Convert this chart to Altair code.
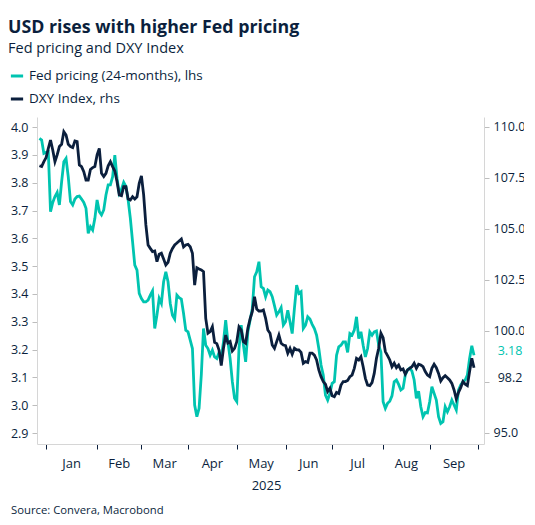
import numpy as np
import pandas as pd
import altair as alt

NAVY = "#0b1f3d"
TEAL = "#00c4b0"
GREY = "#d6d6d6"
FONT = "Open Sans"

fed_label = "Fed pricing (24-months), lhs"
dxy_label = "DXY Index, rhs"

# business days shown on the chart (Macrobond business-day axis)
dates = pd.bdate_range("2024-12-27", "2025-09-29")

# Fed pricing (24-months), lhs
fed = [
    3.959, 3.953, 3.905, 3.909, 3.911, 3.696, 3.729, 3.750, 3.765, 3.720, 3.803, 3.875, 3.887,
    3.821, 3.732, 3.720, 3.741, 3.750, 3.752, 3.741, 3.729, 3.708, 3.618,
    3.642, 3.630, 3.672, 3.738, 3.696, 3.684, 3.702, 3.756, 3.792, 3.792,
    3.821, 3.899, 3.815, 3.762, 3.777, 3.801, 3.786, 3.738, 3.672, 3.588,
    3.504, 3.486, 3.402, 3.384, 3.372, 3.372, 3.378, 3.396, 3.411, 3.276,
    3.324, 3.384, 3.366, 3.444, 3.480, 3.444, 3.366, 3.324, 3.310, 3.396,
    3.387, 3.382, 3.330, 3.270, 3.264, 3.234, 3.204, 3.001, 2.959, 2.989,
    3.109, 3.276, 3.216, 3.204, 3.180, 3.198, 3.174, 3.168, 3.190, 3.174,
    3.228, 3.306, 3.228, 3.168, 3.085, 3.025, 3.013, 3.204, 3.288, 3.216,
    3.156, 3.264, 3.306, 3.348, 3.462, 3.480, 3.516, 3.426, 3.420, 3.390,
    3.414, 3.408, 3.390, 3.358, 3.324, 3.336, 3.351, 3.288, 3.300, 3.342,
    3.300, 3.258, 3.348, 3.432, 3.402, 3.408, 3.276, 3.288, 3.318, 3.310,
    3.291, 3.276, 3.252, 3.204, 3.145, 3.109, 3.037, 3.019, 3.043, 3.079,
    3.085, 3.180, 3.210, 3.216, 3.228, 3.228, 3.190, 3.258, 3.252, 3.270,
    3.318, 3.240, 3.264, 3.216, 3.174, 3.204, 3.264, 3.252, 3.264, 3.267,
    3.216, 3.192, 3.013, 2.989, 3.007, 3.015, 3.034, 3.085, 3.091, 3.075,
    3.055, 3.061, 3.109, 3.127, 3.133, 3.123, 3.091, 3.025, 3.051, 2.995,
    2.959, 2.974, 2.973, 3.013, 3.067, 3.043, 3.019, 2.959, 2.935, 2.941,
    2.995, 2.977, 2.995, 3.019, 3.001, 2.983, 3.055, 3.073, 3.085, 3.091,
    3.109, 3.168, 3.214, 3.180,
]

# DXY Index, rhs
dxy = [
    108.10, 108.06, 108.30, 108.50, 108.95, 109.36, 108.87, 108.30, 108.63, 109.04, 109.15, 109.77, 109.61,
    109.15, 109.04, 108.99, 109.31, 109.28, 108.14, 108.06, 107.81, 107.40, 107.40,
    107.92, 108.01, 108.06, 108.63, 108.95, 107.73, 107.57, 107.73, 108.10, 108.30,
    108.06, 107.84, 107.32, 106.67, 106.63, 107.08, 107.08, 106.47, 106.42, 106.58,
    106.47, 106.58, 107.24, 107.60, 106.67, 105.20, 104.22, 104.05, 103.89, 103.92,
    103.40, 103.76, 103.81, 103.53, 103.24, 103.37, 103.81, 104.05, 104.22, 104.31,
    104.41, 104.51, 104.12, 104.22, 104.25, 104.13, 103.81, 102.25, 103.10, 103.04,
    102.99, 102.91, 100.62, 99.89, 99.97, 100.21, 99.44, 99.38, 99.07, 98.30,
    99.15, 99.80, 99.41, 99.48, 99.02, 99.15, 99.48, 100.20, 100.05, 99.48,
    99.40, 100.13, 100.59, 100.95, 101.68, 101.08, 100.98, 100.98, 101.03, 100.62,
    100.05, 99.89, 99.31, 99.15, 99.48, 99.80, 99.40, 99.31, 99.28, 98.91,
    99.15, 98.86, 99.15, 99.07, 99.07, 98.95, 98.42, 98.50, 98.46, 98.91,
    98.91, 98.82, 98.58, 98.09, 97.76, 97.52, 97.39, 97.03, 97.19, 96.83,
    96.78, 96.99, 96.94, 97.35, 97.52, 97.52, 97.58, 97.76, 97.84, 98.17,
    98.66, 98.58, 98.74, 98.25, 97.68, 97.35, 97.32, 97.47, 97.92, 98.66,
    99.15, 99.89, 99.67, 98.99, 98.79, 98.58, 98.25, 98.42, 98.20, 98.33,
    98.09, 98.14, 97.88, 98.09, 98.17, 98.25, 98.42, 98.17, 98.37, 98.33,
    98.25, 98.01, 97.84, 97.76, 98.17, 98.37, 98.20, 97.92, 97.55, 97.71,
    97.81, 97.71, 97.60, 97.43, 97.11, 96.67, 96.99, 97.22, 97.52, 97.39,
    97.32, 98.01, 98.66, 98.20,
]

month_starts = ["2025-01-01", "2025-02-01", "2025-03-01", "2025-04-01", "2025-05-01",
                "2025-06-01", "2025-07-01", "2025-08-01", "2025-09-01", "2025-10-01"]
month_names = ["Jan", "Feb", "Mar", "Apr", "May", "Jun", "Jul", "Aug", "Sep"]

left_ticks = [2.9, 3.0, 3.1, 3.2, 3.3, 3.4, 3.5, 3.6, 3.7, 3.8, 3.9, 4.0]
right_ticks = [95.0, 97.5, 100.0, 102.5, 105.0, 107.5, 110.0]

source = "Source: Convera, Macrobond"

# x position = business days since 1 Jan 2025
day = np.busday_count("2025-01-01", dates.values.astype("datetime64[D]"))
starts = np.busday_count("2025-01-01", np.array(month_starts, dtype="datetime64[D]"))
mids = (starts[:-1] + starts[1:]) / 2

df = pd.DataFrame({"day": day, "fed": fed, "dxy": dxy})
last = df.tail(1)
months = pd.DataFrame({"day": mids, "name": month_names})

W, H = 447, 327

x_enc = alt.X(
    "day:Q",
    scale=alt.Scale(domain=[-4.1, 197.5], nice=False, zero=False),
    axis=alt.Axis(
        values=[int(s) for s in starts], labels=False, grid=False,
        tickSize=5, tickColor=NAVY, domainColor=GREY,
        title="2025", titleX=229, titleY=45, titleAlign="center",
        titleBaseline="alphabetic", titleFontSize=13, titleFontWeight="normal",
        titleColor=NAVY,
    ),
)

y_fed = alt.Scale(domain=[2.861, 4.036], nice=False, zero=False)
y_dxy = alt.Scale(domain=[94.46, 110.49], nice=False, zero=False)

fed_axis = alt.Axis(
    orient="left", values=left_ticks, format=".1f", title=None,
    grid=False, tickSize=5, tickColor="#bdbdbd", domainColor=GREY,
    labelPadding=4, labelOverlap=False,
)
dxy_axis = alt.Axis(
    orient="right", values=right_ticks, title=None,
    labelExpr="datum.value == 97.5 ? '' : format(datum.value, '.1f')",
    grid=False, tickSize=5, tickColor="#bdbdbd", domainColor=GREY,
    labelPadding=4, labelOverlap=False,
)

color = alt.Color(
    "series:N",
    scale=alt.Scale(domain=[fed_label, dxy_label], range=[TEAL, NAVY]),
    legend=alt.Legend(
        title=None, orient="none", legendX=-28, legendY=-49,
        symbolType="stroke", symbolSize=150, symbolStrokeWidth=3,
        labelFont=FONT, labelFontSize=13.5, labelColor=NAVY, labelLimit=400,
        labelOffset=4, rowPadding=8, padding=0,
    ),
)

fed_line = (
    alt.Chart(df)
    .transform_calculate(series=f"'{fed_label}'")
    .mark_line(strokeWidth=2.8)
    .encode(x=x_enc, y=alt.Y("fed:Q", scale=y_fed, axis=fed_axis), color=color)
)
fed_last = (
    alt.Chart(last)
    .mark_text(align="center", dx=36, dy=-4, fontSize=12.5, font=FONT, color=TEAL)
    .encode(x=x_enc, y=alt.Y("fed:Q", scale=y_fed, axis=fed_axis),
            text=alt.Text("fed:Q", format=".2f"))
)

dxy_line = (
    alt.Chart(df)
    .transform_calculate(series=f"'{dxy_label}'")
    .mark_line(strokeWidth=2.8)
    .encode(x=x_enc, y=alt.Y("dxy:Q", scale=y_dxy, axis=dxy_axis), color=color)
)
dxy_last = (
    alt.Chart(last)
    .mark_text(align="center", dx=36, dy=10, fontSize=12.5, font=FONT, color=NAVY)
    .encode(x=x_enc, y=alt.Y("dxy:Q", scale=y_dxy, axis=dxy_axis),
            text=alt.Text("dxy:Q", format=".1f"))
)

month_text = (
    alt.Chart(months)
    .mark_text(baseline="alphabetic", fontSize=13, font=FONT, color=NAVY)
    .encode(x=x_enc, y=alt.value(H + 23.5), text="name:N")
)

source_text = (
    alt.Chart(pd.DataFrame({"t": [source]}))
    .mark_text(align="left", baseline="alphabetic", fontSize=11.3, font=FONT, color=NAVY)
    .encode(x=alt.value(-26), y=alt.value(H + 69.5), text="t:N")
)

chart = (
    alt.layer(
        alt.layer(fed_line, fed_last),
        alt.layer(dxy_line, dxy_last),
        month_text,
        source_text,
    )
    .resolve_scale(y="independent")
    .properties(
        width=W,
        height=H,
        autosize=alt.AutoSizeParams(type="none"),
        padding={"left": 29, "top": 109, "right": 40, "bottom": 76},
        title=alt.TitleParams(
            text="USD rises with higher Fed pricing",
            subtitle="Fed pricing and DXY Index",
            anchor="start", frame="group", dx=-29, offset=12,
            font=FONT, fontSize=17.8, fontWeight="bold", color=NAVY,
            subtitleFont=FONT, subtitleFontSize=14.5, subtitleColor=NAVY,
            subtitlePadding=6,
        ),
    )
    .configure_view(stroke=None)
    .configure_axis(labelFont=FONT, titleFont=FONT, labelColor=NAVY, labelFontSize=12.5)
)

chart.save("out.html", embed_options={"renderer": "svg", "actions": False})
